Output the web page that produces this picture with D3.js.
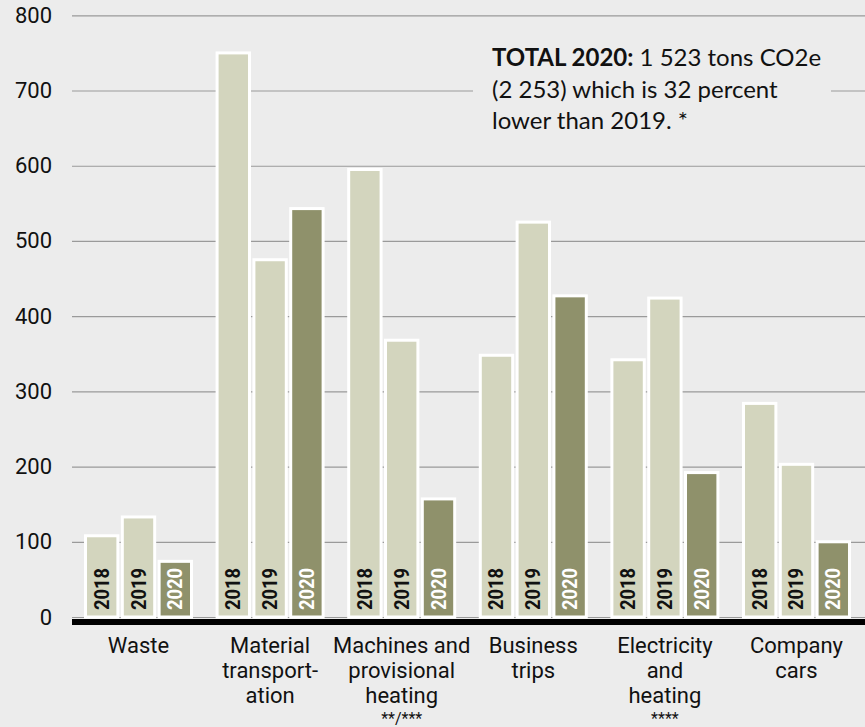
<!DOCTYPE html>
<html><head><meta charset="utf-8">
<script src="https://cdn.jsdelivr.net/npm/d3@7"></script>
<style>
html,body{margin:0;padding:0;background:#ececec;}
svg{display:block;}
</style></head>
<body>
<script>
const categories = ["Waste", "Material transportation", "Machines and provisional heating", "Business trips", "Electricity and heating", "Company cars"];
const categoryLines = [["Waste"], ["Material", "transport-", "ation"], ["Machines and", "provisional", "heating", "**/***"], ["Business", "trips"], ["Electricity", "and", "heating", "****"], ["Company", "cars"]];
const years = ["2018", "2019", "2020"];
const values2018 = [108, 750, 595, 348, 342, 284];
const values2019 = [133, 475, 368, 525, 424, 203];
const values2020 = [74, 543, 157, 427, 192, 100];
const yTicks = [0, 100, 200, 300, 400, 500, 600, 700, 800];
const noteLines = [["TOTAL 2020:", " 1 523 tons CO2e"], ["", "(2 253) which is 32 percent"], ["", "lower than 2019. *"]];

const W = 865, H = 727;
const svg = d3.select("body").append("svg").attr("width", W).attr("height", H);
svg.append("rect").attr("width", W).attr("height", H).attr("fill", "#ececec");

const y = d3.scaleLinear().domain([0, 800]).range([617, 15.3]);
const x0 = d3.scaleBand().domain(categories).range([84, 851]).paddingInner(0.1717).paddingOuter(0);
const x1 = d3.scaleBand().domain(years).range([1.5, x0.bandwidth() - 1.5]).paddingInner(0.12);

// grid + y axis
const axis = d3.axisLeft(y).tickValues(yTicks).tickSize(-(W - 72)).tickPadding(20).tickFormat(d3.format("d"));
const gAxis = svg.append("g").attr("transform", "translate(72,0)").call(axis);
gAxis.select(".domain").remove();
gAxis.selectAll(".tick line").attr("stroke", "#9a9a9a").attr("stroke-width", 1.2);
gAxis.selectAll(".tick text").attr("font-family", "Roboto, sans-serif").attr("font-size", 22).attr("fill", "#111");

// annotation background (hides grid lines)
svg.append("rect").attr("x", 473).attr("y", 40).attr("width", 358).attr("height", 100).attr("fill", "#ececec");

const series = [values2018, values2019, values2020];
const rows = [];
categories.forEach((c, i) => years.forEach((yr, j) => rows.push({cat: c, year: yr, value: series[j][i], j})));

const g = svg.append("g");
g.selectAll("rect.bar").data(rows).join("rect")
  .attr("class", "bar")
  .attr("x", d => x0(d.cat) + x1(d.year))
  .attr("y", d => y(d.value))
  .attr("width", x1.bandwidth())
  .attr("height", d => y(0) - y(d.value))
  .attr("fill", d => d.j === 2 ? "#8f916b" : "#d3d5be")
  .attr("stroke", "#ffffff")
  .attr("stroke-width", 3);

g.selectAll("text.yr").data(rows).join("text")
  .attr("class", "yr")
  .attr("transform", d => `translate(${x0(d.cat) + x1(d.year) + x1.bandwidth() / 2 + 7},610) rotate(-90)`)
  .attr("font-family", "Roboto, sans-serif").attr("font-weight", "bold").attr("font-size", 20)
  .attr("textLength", 42).attr("lengthAdjust", "spacingAndGlyphs")
  .attr("fill", d => d.j === 2 ? "#ffffff" : "#111")
  .text(d => d.year);

// baseline
svg.append("line").attr("x1", 72).attr("x2", W).attr("y1", y(0) + 5).attr("y2", y(0) + 5)
  .attr("stroke", "#000").attr("stroke-width", 6);

// category labels
const cl = svg.append("g");
categories.forEach((c, i) => {
  const cx = x0(c) + x0.bandwidth() / 2;
  const t = cl.append("text").attr("text-anchor", "middle")
    .attr("font-family", "Roboto, sans-serif").attr("font-size", 22).attr("fill", "#111");
  categoryLines[i].forEach((ln, k) => {
    if (ln.startsWith("*")) {
      cl.append("text").attr("text-anchor", "middle").attr("x", cx).attr("y", 723.5)
        .attr("font-family", "Roboto, sans-serif").attr("font-size", 16).attr("fill", "#111").text(ln);
    } else {
      t.append("tspan").attr("x", cx).attr("y", 653 + k * 25).text(ln);
    }
  });
});

// annotation
const note = svg.append("text").attr("font-family", "Lato, sans-serif").attr("font-size", 24).attr("fill", "#111");
noteLines.forEach((ln, k) => {
  const ts = note.append("tspan").attr("x", 492).attr("y", 66 + k * 31.5);
  if (ln[0]) ts.append("tspan").attr("font-weight", "bold").text(ln[0]);
  ts.append("tspan").text(ln[1]);
});
</script>
</body></html>
